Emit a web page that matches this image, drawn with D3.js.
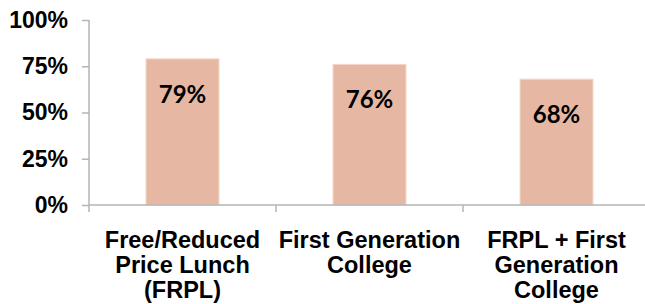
<!DOCTYPE html>
<html>
<head>
<meta charset="utf-8">
<script src="https://cdn.jsdelivr.net/npm/d3@7/dist/d3.min.js"></script>
<style>
  html, body { margin: 0; padding: 0; background: #ffffff; }
  svg { display: block; }
</style>
</head>
<body>
<svg id="chart" width="645" height="304"></svg>
<script>
const categories = [
  ["Free/Reduced", "Price Lunch", "(FRPL)"],
  ["First Generation", "College"],
  ["FRPL + First", "Generation", "College"]
];
const values = [79, 76, 68];
const yTicks = [0, 25, 50, 75, 100];

const svg = d3.select("#chart");
const x = d3.scaleBand()
  .domain(d3.range(categories.length))
  .range([89, 650])
  .paddingInner(0.61)
  .paddingOuter(0.305);
const y = d3.scaleLinear().domain([0, 100]).range([205, 20]);

const axisColor = "#B4B4B4";

// bars
svg.append("g").selectAll("rect")
  .data(values)
  .join("rect")
  .attr("x", (d, i) => x(i))
  .attr("y", d => y(d))
  .attr("width", x.bandwidth())
  .attr("height", d => y(0) - y(d))
  .attr("fill", "#E6B8A3")
  .attr("stroke", "#F3D6C9")
  .attr("stroke-width", 1);

// y axis
const yAxis = svg.append("g")
  .attr("transform", "translate(89,0)")
  .call(d3.axisLeft(y).tickValues(yTicks).tickSize(7).tickPadding(14).tickFormat(d => d + "%"));
yAxis.select(".domain").attr("stroke", axisColor).attr("stroke-width", 1.5).attr("d", "M0,20V205");
yAxis.selectAll(".tick line").attr("stroke", axisColor).attr("stroke-width", 1.5);
yAxis.selectAll(".tick text")
  .attr("fill", "#000")
  .style("font-family", "'Liberation Sans', Arial, sans-serif")
  .style("font-weight", "bold")
  .style("font-size", "23px");

// x axis
const xAxisG = svg.append("g").attr("transform", "translate(0,205)");
xAxisG.append("line")
  .attr("x1", 89).attr("x2", 650).attr("y1", 0).attr("y2", 0)
  .attr("stroke", axisColor).attr("stroke-width", 1.5);
const step = x.step();
xAxisG.selectAll("line.tk")
  .data(d3.range(categories.length + 1))
  .join("line")
  .attr("class", "tk")
  .attr("x1", i => x.range()[0] + i * step)
  .attr("x2", i => x.range()[0] + i * step)
  .attr("y1", 0).attr("y2", 7)
  .attr("stroke", axisColor).attr("stroke-width", 1.5);

// category labels
const lab = svg.append("g").selectAll("text")
  .data(categories)
  .join("text")
  .attr("x", (d, i) => x(i) + x.bandwidth() / 2)
  .attr("y", 248)
  .attr("text-anchor", "middle")
  .style("font-family", "'Liberation Sans', Arial, sans-serif")
  .style("font-weight", "bold")
  .style("font-size", "23.5px")
  .attr("fill", "#000");
lab.selectAll("tspan")
  .data(d => d)
  .join("tspan")
  .attr("x", function () { return d3.select(this.parentNode).attr("x"); })
  .attr("dy", (d, i) => i === 0 ? 0 : 25)
  .text(d => d);

// value labels
svg.append("g").selectAll("text")
  .data(values)
  .join("text")
  .attr("x", (d, i) => x(i) + x.bandwidth() / 2)
  .attr("y", d => y(d) + 44)
  .attr("text-anchor", "middle")
  .style("font-family", "Lato, 'Open Sans', sans-serif")
  .style("font-weight", "bold")
  .style("font-size", "24px")
  .attr("fill", "#000")
  .text(d => d + "%");
</script>
</body>
</html>
